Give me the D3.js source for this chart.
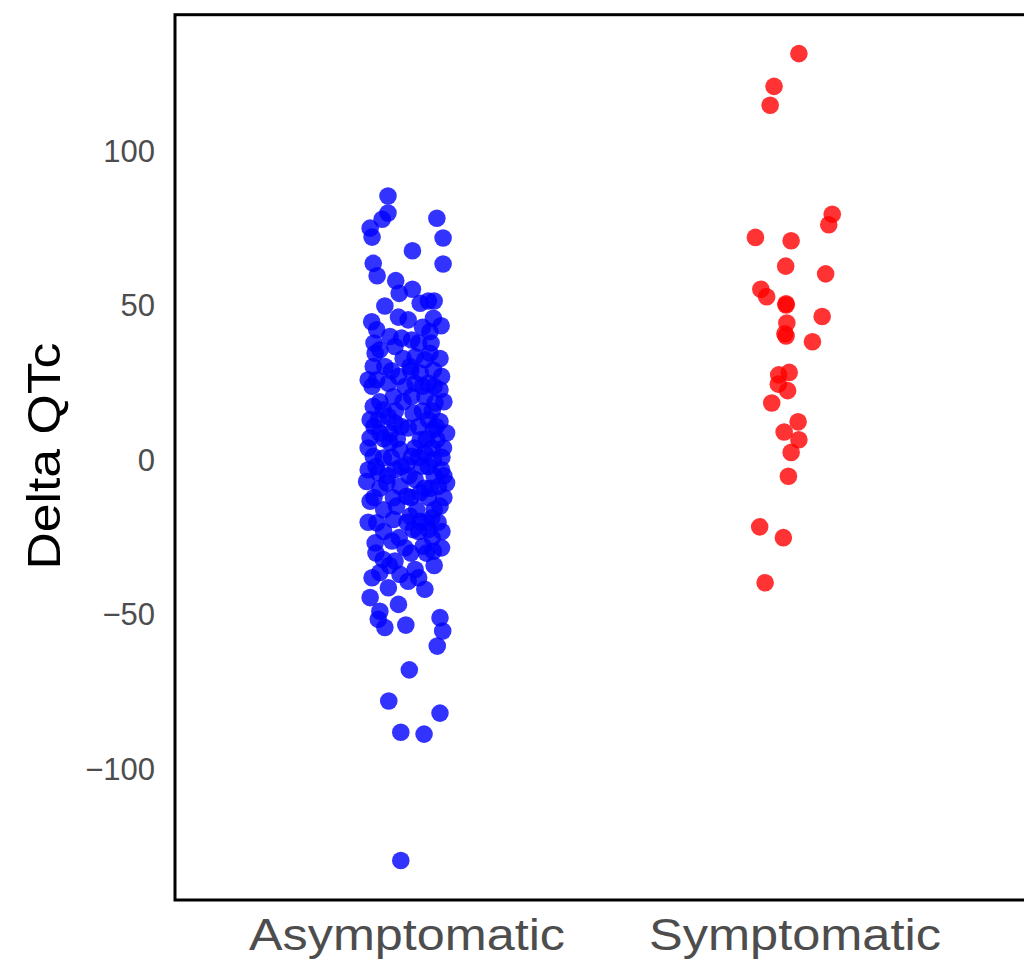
<!DOCTYPE html>
<html lang="en">
<head>
    <meta charset="UTF-8">
    <title>Delta QTc</title>
<script src="https://d3js.org/d3.v7.min.js"></script>
<style>
    body { margin: 0; background: white; }
    text { font-family: "Liberation Sans", Arial, sans-serif; }
</style>
</head>
<body>
<div id="chart"></div>
<script>
    const groups = ["Asymptomatic", "Symptomatic"]
    const yTicks = [-100, -50, 0, 50, 100]

    // jitter offset (in category units) and Delta QTc
    const asymJitter = [-0.049,-0.049,-0.064,-0.095,-0.090,0.077,0.093,
        0.014,-0.087,0.093,-0.077,-0.029,0.014,-0.020,-0.057,0.055,0.070,0.034,
        -0.091,-0.078,-0.022,0.003,0.040,0.068,0.088,-0.044,-0.014,0.012,-0.031,
        0.062,0.059,-0.082,-0.070,0.021,0.046,-0.087,-0.057,-0.100,-0.078,-0.022,
        0.008,0.034,0.068,0.089,-0.048,-0.005,0.021,0.055,0.085,-0.035,0.012,
        0.046,0.072,-0.087,-0.061,0.016,-0.095,-0.074,-0.048,-0.031,0.055,0.085,
        0.102,-0.095,-0.070,0.003,0.034,0.077,0.094,-0.044,-0.018,-0.087,-0.061,
        0.012,0.046,0.068,-0.100,-0.074,-0.031,0.038,0.089,0.102,-0.104,-0.052,
        -0.018,0.021,0.081,-0.095,-0.035,-0.001,0.034,0.085,-0.027,-0.078,-0.035,
        0.008,0.034,0.064,0.016,0.055,-0.082,-0.039,-0.005,0.042,0.089,0.068,
        -0.061,-0.031,0.021,-0.070,-0.018,0.003,-0.048,0.046,-0.095,-0.022,-0.070,
        -0.074,-0.057,-0.003,0.085,0.092,0.078,0.006,-0.047,0.085,-0.016,0.044,
        -0.016,0.059,-0.044,0.068,-0.001,
        // hidden points in the dense core
        -0.085,0.030,-0.010,0.085,-0.040,0.010,-0.090,0.040,0.070,
        -0.070,-0.010,0.095,-0.030,0.040,0.065,-0.085,-0.015,0.030,0.075,
        -0.060,-0.025,0.050,-0.100,0.020,0.065,-0.040,0.030,0.090,
        -0.080,-0.015,0.055,-0.050,0.005,0.070,0.095,-0.070,0.045,0.060,
        -0.085,0.010,0.055,0.095,-0.060,0.025,0.070,-0.100,0.000,0.050,0.080,
        -0.060,0.030,0.090,-0.020,0.065,-0.080,0.010,0.050,-0.045,0.070,
        -0.090,0.030]
    const asymQTc = [85.6,80.1,78.1,75.2,72.3,78.4,72.0,
        67.9,63.8,63.6,59.8,58.2,55.4,54.1,50.0,51.6,51.6,50.9,
        44.9,42.3,46.4,45.5,43.1,46.0,43.6,40.1,39.6,39.0,36.9,
        38.0,34.7,34.7,35.8,33.6,32.6,30.4,30.4,26.1,26.1,27.2,
        30.4,28.3,29.3,27.2,25.0,23.9,25.0,25.0,22.9,20.7,20.7,
        20.7,18.6,17.5,16.4,15.3,13.2,13.2,14.2,12.1,13.2,12.6,
        8.9,7.3,8.9,10.5,6.7,6.7,4.0,5.7,3.5,1.3,0.8,
        1.3,2.4,0.3,-3.0,-4.0,-3.0,-1.9,-3.0,-7.3,-6.8,-7.3,
        -8.4,-6.2,-8.4,-13.2,-12.1,-11.6,-10.5,-14.8,-14.8,-20.2,-19.1,
        -18.1,-19.7,-18.6,-22.4,-22.4,-26.7,-26.1,-28.3,-27.8,-28.3,-29.4,
        -32.1,-32.6,-35.3,-36.3,-36.9,-39.1,-41.2,-41.7,-44.4,-46.6,-48.8,
        -51.4,-54.1,-53.3,-50.9,-55.2,-60.1,-67.8,-77.9,-81.8,-88.0,-88.6,
        -129.5,41.7,8.9,10.0,-1.4,
        38,38,33,33,29,29,24,24,24,
        19,19,19,16,16,16,11,11,11,11,
        7,7,7,4,4,4,1,1,1,
        -2,-2,-2,-5,-5,-5,-5,-9,-9,-9,
        -12,-12,-12,-12,-16,-16,-16,-20,-20,-20,-20,
        -23,-23,-23,-25,-25,-30,-30,-30,-34,-34,
        -38,-38]

    const symJitter = [0.010,-0.054,-0.064,0.096,0.087,-0.102,-0.010,-0.024,0.079,
        -0.088,-0.073,-0.023,-0.023,0.070,-0.021,-0.026,-0.023,0.045,-0.042,-0.015,
        -0.043,-0.019,-0.060,0.008,-0.028,0.010,-0.010,-0.017,-0.091,-0.030,-0.077]
    const symQTc = [131.7,121.1,115.0,79.7,76.3,72.2,71.1,62.9,60.4,
        55.4,53.0,50.7,50.3,46.6,44.5,41.0,40.3,38.4,27.7,28.5,
        24.7,22.6,18.6,12.5,9.2,6.7,2.6,-5.1,-21.5,-25.0,-39.6]

    const groupColor = ["#0000ff", "#ff0000"]

    const width = 1024
    const height = 968

    const points = []
    asymQTc.forEach((v, i) => points.push({g: 0, jit: asymJitter[i], qtc: v}))
    symQTc.forEach((v, i) => points.push({g: 1, jit: symJitter[i], qtc: v}))

    // discrete positions 1 and 2, with ggplot-like 0.6 expansion
    const xScale = d3.scaleLinear().domain([0.4, 2.6]).range([174.2, 1027.8])
    const yScale = d3.scaleLinear().domain([-142.3, 144.3]).range([900, 14.7])

    const svg = d3.select("div#chart").append("svg")
        .attr("width", width)
        .attr("height", height)

    svg.append("rect")
        .attr("width", width)
        .attr("height", height)
        .attr("fill", "white")

    svg.selectAll("circle")
        .data(points)
        .join("circle")
        .attr("cx", d => xScale(d.g + 1 + d.jit))
        .attr("cy", d => yScale(d.qtc))
        .attr("r", 8.8)
        .attr("fill", d => groupColor[d.g])
        .attr("fill-opacity", 0.8)

    // panel border
    svg.append("rect")
        .attr("x", xScale(0.4) + 0.8)
        .attr("y", yScale(144.3))
        .attr("width", xScale(2.6) - xScale(0.4))
        .attr("height", yScale(-142.3) - yScale(144.3))
        .attr("fill", "none")
        .attr("stroke", "black")
        .attr("stroke-width", 3)

    const yAxis = d3.axisLeft(yScale).tickValues(yTicks).tickSize(0).tickPadding(20)
        .tickFormat(d => d < 0 ? "\u2212" + Math.abs(d) : d)
    const gy = svg.append("g")
        .attr("transform", "translate(175,0)")
        .call(yAxis)
    gy.select(".domain").remove()
    gy.selectAll("text")
        .attr("font-size", 31)
        .attr("fill", "#4d4d4d")
        .attr("font-family", "Liberation Sans, Arial, sans-serif")

    const labelLen = [316, 292]
    svg.selectAll(".xlab")
        .data(groups)
        .join("text")
        .attr("class", "xlab")
        .attr("x", (d, i) => xScale(i + 1))
        .attr("y", 950)
        .attr("text-anchor", "middle")
        .attr("font-size", 45)
        .attr("fill", "#4d4d4d")
        .attr("textLength", (d, i) => labelLen[i])
        .attr("lengthAdjust", "spacingAndGlyphs")
        .text(d => d)

    svg.append("text")
        .attr("transform", "translate(60," + yScale(1.4) + ") rotate(-90)")
        .attr("text-anchor", "middle")
        .attr("font-size", 46)
        .attr("fill", "black")
        .attr("textLength", 227)
        .attr("lengthAdjust", "spacingAndGlyphs")
        .text("Delta QTc")
</script>
</body>
</html>
